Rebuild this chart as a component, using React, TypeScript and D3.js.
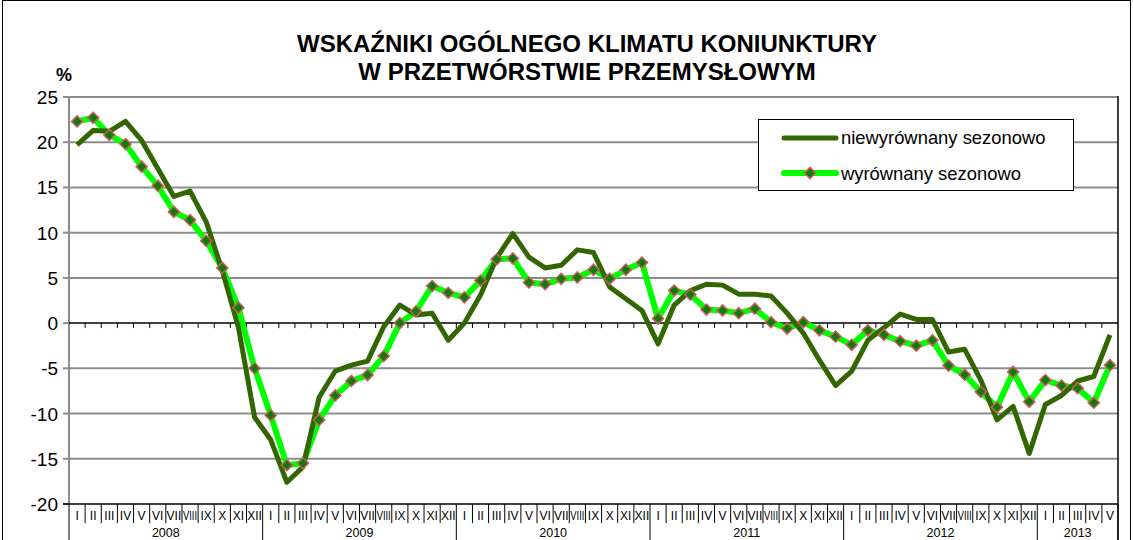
import { useEffect, useRef } from 'react';
import * as d3 from 'd3';

// data
const years = ['2008', '2009', '2010', '2011', '2012', '2013'];
const months = ['I', 'II', 'III', 'IV', 'V', 'VI', 'VII', 'VIII', 'IX', 'X', 'XI', 'XII'];
const monthsPerYear = [12, 12, 12, 12, 12, 5];

const unadjusted = [
  19.7, 21.3, 21.2, 22.3, 20.2, 17.1, 14.0, 14.6, 11.2, 5.8, -0.5, -10.4,
  -12.9, -17.6, -15.9, -8.2, -5.3, -4.65, -4.2, -0.4, 2.0, 0.9, 1.1, -1.9,
  0.0, 3.1, 7.2, 9.9, 7.3, 6.1, 6.4, 8.1, 7.8, 4.0, 2.7, 1.4,
  -2.3, 2.0, 3.6, 4.3, 4.2, 3.2, 3.2, 3.0, 1.1, -1.1, -4.1, -6.9,
  -5.3, -1.9, -0.5, 1.0, 0.4, 0.4, -3.2, -2.9, -6.3, -10.7, -9.2, -14.4,
  -9.0, -8.0, -6.4, -5.9, -1.3,
];

const adjusted = [
  22.3, 22.7, 20.8, 19.8, 17.3, 15.2, 12.3, 11.4, 9.1, 6.1, 1.7, -5.0,
  -10.2, -15.7, -15.5, -10.7, -8.0, -6.4, -5.75, -3.65, 0.0, 1.3, 4.1, 3.35,
  2.85, 4.7, 7.05, 7.15, 4.5, 4.3, 4.9, 5.05, 5.9, 4.9, 5.9, 6.7,
  0.5, 3.6, 3.15, 1.5, 1.4, 1.1, 1.6, 0.1, -0.6, 0.1, -0.8, -1.5,
  -2.4, -0.8, -1.3, -2.0, -2.5, -1.9, -4.7, -5.7, -7.6, -9.3, -5.4, -8.7,
  -6.3, -6.9, -7.2, -8.8, -4.65,
];

const yTicks = [25, 20, 15, 10, 5, 0, -5, -10, -15, -20];

const DARK = '#336600';
const LIGHT = '#00ff00';
const FONT = 'Liberation Sans, Arial, sans-serif';

export default function App() {
  const ref = useRef<SVGSVGElement | null>(null);
  const width = 1133;
  const height = 540;

  useEffect(() => {
    const svg = d3.select(ref.current);
    svg.selectAll('*').remove();

    const n = unadjusted.length;
    const left = 69;
    const right = 1118;
    const top = 97;
    const bottom = 504;

    const x = d3.scaleLinear().domain([0, n]).range([left, right]);
    const y = d3.scaleLinear().domain([-20, 25]).range([bottom, top]);

    // outer frame
    svg.append('rect')
      .attr('x', 2.5).attr('y', 0.5)
      .attr('width', 1128).attr('height', 560)
      .attr('fill', 'white').attr('stroke', '#000').attr('stroke-width', 1);

    // title
    const title = svg.append('text')
      .attr('text-anchor', 'middle')
      .attr('font-family', FONT)
      .attr('font-weight', 'bold')
      .attr('font-size', 24);
    title.append('tspan').attr('x', 587).attr('y', 52).text('WSKAŹNIKI OGÓLNEGO KLIMATU KONIUNKTURY');
    title.append('tspan').attr('x', 587).attr('y', 80).text('W PRZETWÓRSTWIE PRZEMYSŁOWYM');

    svg.append('text')
      .attr('x', 56).attr('y', 81)
      .attr('font-family', FONT).attr('font-weight', 'bold').attr('font-size', 18)
      .text('%');

    // gridlines
    svg.append('g')
      .selectAll('line')
      .data(yTicks.filter(t => t !== 0 && t !== -20))
      .join('line')
      .attr('x1', left).attr('x2', right)
      .attr('y1', d => y(d)).attr('y2', d => y(d))
      .attr('stroke', '#8c8c8c').attr('stroke-width', 2);

    // y-axis line and ticks
    svg.append('line')
      .attr('x1', left).attr('x2', left)
      .attr('y1', top).attr('y2', bottom)
      .attr('stroke', '#8c8c8c').attr('stroke-width', 2);
    svg.append('g')
      .selectAll('line')
      .data(yTicks)
      .join('line')
      .attr('x1', left - 6).attr('x2', left)
      .attr('y1', d => y(d)).attr('y2', d => y(d))
      .attr('stroke', '#8c8c8c').attr('stroke-width', 2);
    svg.append('g')
      .selectAll('text')
      .data(yTicks)
      .join('text')
      .attr('x', 58)
      .attr('y', d => y(d) + 7)
      .attr('text-anchor', 'end')
      .attr('font-family', FONT).attr('font-size', 19)
      .text(d => d);

    // right border
    svg.append('line')
      .attr('x1', right).attr('x2', right)
      .attr('y1', top - 1).attr('y2', height)
      .attr('stroke', '#000').attr('stroke-width', 1.5);

    // zero line with month ticks
    svg.append('line')
      .attr('x1', left).attr('x2', right)
      .attr('y1', y(0)).attr('y2', y(0))
      .attr('stroke', '#000').attr('stroke-width', 1.5);
    svg.append('g')
      .selectAll('line')
      .data(d3.range(1, n))
      .join('line')
      .attr('x1', d => x(d)).attr('x2', d => x(d))
      .attr('y1', y(0)).attr('y2', y(0) + 5)
      .attr('stroke', '#000').attr('stroke-width', 1);

    // bottom axis
    svg.append('line')
      .attr('x1', left - 6).attr('x2', right)
      .attr('y1', bottom).attr('y2', bottom)
      .attr('stroke', '#000').attr('stroke-width', 1.5);

    const labels = d3.range(n).map(i => months[i % 12]);
    svg.append('g')
      .selectAll('line')
      .data(d3.range(0, n + 1))
      .join('line')
      .attr('x1', d => x(d)).attr('x2', d => x(d))
      .attr('y1', bottom)
      .attr('y2', d => (d % 12 === 0 || d === n ? height : bottom + 19))
      .attr('stroke', '#000').attr('stroke-width', 1);
    svg.append('g')
      .selectAll('text')
      .data(labels)
      .join('text')
      .attr('x', (_, i) => x(i + 0.5))
      .attr('y', bottom + 16)
      .attr('text-anchor', 'middle')
      .attr('font-family', FONT).attr('font-size', 12)
      .attr('textLength', d => (d.length > 3 ? 14 : null))
      .attr('lengthAdjust', 'spacingAndGlyphs')
      .text(d => d);

    let start = 0;
    years.forEach((yr, k) => {
      const end = start + monthsPerYear[k];
      svg.append('text')
        .attr('x', x((start + end) / 2))
        .attr('y', bottom + 33)
        .attr('text-anchor', 'middle')
        .attr('font-family', FONT).attr('font-size', 12.5)
        .text(yr);
      start = end;
    });

    // series
    const line = d3.line<number>()
      .x((_, i) => x(i + 0.5))
      .y(d => y(d));

    svg.append('path')
      .datum(adjusted)
      .attr('fill', 'none')
      .attr('stroke', LIGHT)
      .attr('stroke-width', 6)
      .attr('stroke-linejoin', 'round')
      .attr('d', line);

    svg.append('path')
      .datum(unadjusted)
      .attr('fill', 'none')
      .attr('stroke', DARK)
      .attr('stroke-width', 5)
      .attr('stroke-linejoin', 'round')
      .attr('d', line);

    const diamond = d3.symbol(d3.symbolSquare, 62);
    svg.append('g')
      .selectAll('path')
      .data(adjusted)
      .join('path')
      .attr('d', diamond)
      .attr('transform', (d, i) => `translate(${x(i + 0.5)},${y(d)}) rotate(45)`)
      .attr('fill', '#0a7d0a')
      .attr('stroke', '#cc5c5c')
      .attr('stroke-width', 1.5);

    // legend
    const lg = svg.append('g');
    lg.append('rect')
      .attr('x', 758.5).attr('y', 119.5)
      .attr('width', 315).attr('height', 71)
      .attr('fill', 'white').attr('stroke', '#000').attr('stroke-width', 1);
    lg.append('line')
      .attr('x1', 784).attr('x2', 836).attr('y1', 138).attr('y2', 138)
      .attr('stroke', DARK).attr('stroke-width', 5).attr('stroke-linecap', 'round');
    lg.append('line')
      .attr('x1', 784).attr('x2', 836).attr('y1', 173).attr('y2', 173)
      .attr('stroke', LIGHT).attr('stroke-width', 6).attr('stroke-linecap', 'round');
    lg.append('path')
      .attr('d', diamond)
      .attr('transform', 'translate(810,173) rotate(45)')
      .attr('fill', '#0a7d0a')
      .attr('stroke', '#cc5c5c')
      .attr('stroke-width', 1.5);
    lg.append('text')
      .attr('x', 841).attr('y', 144)
      .attr('font-family', FONT).attr('font-size', 18.4)
      .text('niewyrównany sezonowo');
    lg.append('text')
      .attr('x', 841).attr('y', 180)
      .attr('font-family', FONT).attr('font-size', 18.4)
      .text('wyrównany sezonowo');
  }, []);

  return (
    <svg
      ref={ref}
      width={width}
      height={height}
      style={{ position: 'absolute', left: 0, top: 0, background: 'white' }}
    ></svg>
  );
}
